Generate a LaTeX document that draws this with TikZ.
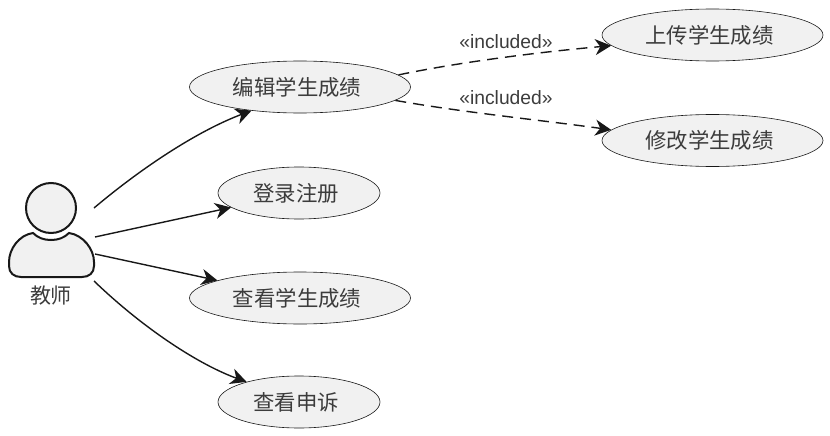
\documentclass[tikz,border=0pt]{standalone}
\usepackage{fontspec}
\setmainfont{Liberation Sans}
\newfontfamily\cjk{Noto Sans CJK SC}
\usepackage{tikz}
\usetikzlibrary{shapes.geometric, arrows.meta}
\definecolor{usecasefill}{RGB}{241,241,241}
\definecolor{linedark}{RGB}{24,24,24}
\definecolor{textgray}{RGB}{60,60,60}

\tikzset{
  usecase/.style={ellipse, draw=linedark, line width=0.6pt, fill=usecasefill, inner sep=0pt,
        minimum height=52pt, text=textgray, font=\fontsize{21.4}{25}\selectfont\cjk,
        execute at begin node=\kern-6pt},
  usecasewide/.style={usecase, minimum width=221pt},
  usecasenarrow/.style={usecase, minimum width=162pt},
  actorpart/.style={draw=linedark, line width=2pt, fill=usecasefill},
  assoc/.style={draw=linedark, line width=1.4pt, -{Stealth[inset=5pt, length=16pt, width=16pt]}},
  incl/.style={assoc, dash pattern=on 11pt off 7pt},
  stereo/.style={text=textgray, font=\fontsize{19.3}{23}\selectfont},
}

\begin{document}
\begin{tikzpicture}[x=1pt, y=-1pt]
  \useasboundingbox (0,0) rectangle (830,436);

  % use cases
  \node[usecasewide]   (edit)    at (300,87)    {编辑学生成绩};
  \node[usecasewide]   (upload)  at (712.5,35)  {上传学生成绩};
  \node[usecasewide]   (modify)  at (712.5,140.5) {修改学生成绩};
  \node[usecasenarrow] (login)   at (299,193)   {登录注册};
  \node[usecasewide]   (view)    at (300,298)   {查看学生成绩};
  \node[usecasenarrow] (appeal)  at (299,402)   {查看申诉};

  % actor
  \node[actorpart, circle, minimum size=50pt, inner sep=0pt] (head) at (51,208) {};
  \draw[actorpart] (33,233) .. controls (38,238) and (44,240) .. (51,240)
        .. controls (58,240) and (64,238) .. (69,233)
        .. controls (83,235) and (94,249) .. (94,262) -- (94,266)
        .. controls (94,273) and (89,277) .. (82,277) -- (21,277)
        .. controls (14,277) and (9,273) .. (9,266) -- (9,262)
        .. controls (9,249) and (19,235) .. (33,233) -- cycle;
  \node[text=textgray, font=\fontsize{21}{25}\selectfont\cjk] (teacher) at (51,296) {教师};
  \coordinate (actorA) at (94,208);
  \coordinate (actorB) at (95,237);
  \coordinate (actorC) at (95,254);
  \coordinate (actorD) at (94,281);

  % connectors
  \draw[assoc] (actorA) .. controls (145,165) and (200,130) .. (edit.206);
  \draw[assoc] (actorB) -- (login.192);
  \draw[assoc] (actorC) -- (view.168);
  \draw[assoc] (actorD) .. controls (145,330) and (200,365) .. (appeal.159);
  \draw[incl] (edit.7) .. controls (460,62) and (540,52) .. (upload.186);
  \draw[incl] (edit.-8) .. controls (460,112) and (540,120) .. (modify.174);

  \node[stereo] (inclA) at (506,42) {«included»};
  \node[stereo] (inclB) at (506,98) {«included»};
\end{tikzpicture}
\end{document}
